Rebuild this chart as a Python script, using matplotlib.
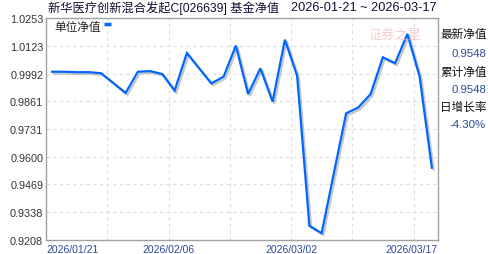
import matplotlib
matplotlib.use("Agg")
import matplotlib.pyplot as plt
import matplotlib.patheffects as pe
import numpy as np

plt.rcParams['font.family'] = ['Liberation Sans', 'Noto Sans CJK SC', 'DejaVu Sans']

dates = ["2026/01/21", "2026/01/23", "2026/01/27", "2026/01/28", "2026/01/29", "2026/01/30",
         "2026/02/02", "2026/02/03", "2026/02/04", "2026/02/05", "2026/02/06",
         "2026/02/09", "2026/02/10", "2026/02/11", "2026/02/12", "2026/02/13",
         "2026/02/24", "2026/02/25", "2026/02/26", "2026/02/27",
         "2026/03/02", "2026/03/03", "2026/03/04", "2026/03/05", "2026/03/06",
         "2026/03/09", "2026/03/10", "2026/03/11", "2026/03/12", "2026/03/13",
         "2026/03/16", "2026/03/17"]
nav = [1.0000, 1.0000, 0.9998, 0.9998, 0.9993, 0.9947,
       0.9900, 1.0000, 1.0003, 0.9989, 0.9911,
       1.0088, 1.0016, 0.9945, 0.9977, 1.0123,
       0.9895, 1.0016, 0.9859, 1.0151,
       0.9981, 0.9275, 0.9240, 0.9523, 0.9804,
       0.9832, 0.9895, 1.0068, 1.0040, 1.0178,
       0.9977, 0.9548]
ytick_labels = ["0.9208", "0.9338", "0.9469", "0.9600", "0.9731", "0.9861", "0.9992", "1.0123", "1.0253"]
xtick_dates = ["2026/01/21", "2026/02/06", "2026/03/02", "2026/03/17"]
title_left = "新华医疗创新混合发起C[026639] 基金净值"
title_right = "2026-01-21 ~ 2026-03-17"
side_labels = ["最新净值", "0.9548", "累计净值", "0.9548", "日增长率", "-4.30%"]
legend_label = "单位净值"

fig = plt.figure(figsize=(4.88, 2.55), dpi=100)
fig.patch.set_facecolor('white')
ax = fig.add_axes([46/488, 14/255, 392/488, 222/255])

x = np.arange(len(nav))
ax.plot(x, nav, color='#0066ff', lw=1.6, solid_joinstyle='miter', zorder=3,
        path_effects=[pe.SimpleLineShadow(offset=(1.3, -1.3), shadow_color='#b0b0b0', alpha=0.7),
                      pe.Normal()])

ymin, ymax = float(ytick_labels[0]), float(ytick_labels[-1])
ax.set_ylim(ymin, ymax)
ax.set_xlim(-0.5, len(nav) - 0.5)

yt = np.linspace(ymin, ymax, len(ytick_labels))
ax.set_yticks(yt)
ax.set_yticklabels(ytick_labels, fontsize=7.8, color='#333333')

for gx in np.arange(4.5, len(nav) - 1, 5):
    ax.axvline(gx, color='#dddddd', lw=0.8, ls=(0, (3, 3)), zorder=1)
for gy in yt[1:-1]:
    ax.axhline(gy, color='#dddddd', lw=0.8, ls=(0, (3, 3)), zorder=1)

xt = []
for d in xtick_dates:
    i = dates.index(d)
    if i == 0:
        xt.append(-0.5)
    elif i == len(dates) - 1:
        xt.append(len(dates) - 0.5)
    else:
        xt.append(i - 0.5)
ax.set_xticks(xt)
labs = ax.set_xticklabels(xtick_dates, fontsize=7.5, color='#2c4a9a')
labs[0].set_ha('left')
labs[-1].set_ha('right')
ax.tick_params(axis='both', length=0, pad=2)
ax.tick_params(axis='x', pad=3)

for s in ax.spines.values():
    s.set_color('#a0a0a0')
    s.set_linewidth(1.0)

fig.text(48/488, 1 - 8/255, title_left, fontsize=8.8, color='#111133', ha='left', va='center')
fig.text(437/488, 1 - 8/255, title_right, fontsize=9.2, color='#111133', ha='right', va='center')

ax.text(8/392, 1 - 9/222, legend_label, transform=ax.transAxes, fontsize=8.4, color='#222222',
        ha='left', va='center')
ax.plot([58/392, 65/392], [1 - 6/222, 1 - 6/222], transform=ax.transAxes, color='#0066ff', lw=2.5,
        solid_capstyle='butt', clip_on=False)

ax.text((395 - 46)/392, 1 - 16/222, "证券之星", transform=ax.transAxes, fontsize=9.5, color='#f4b8b8',
        alpha=0.7, ha='center', va='center', style='italic')

ys = [35, 54, 73, 90, 108, 125]
for lab, yy in zip(side_labels, ys):
    if lab[0].isdigit() or lab[0] == '-':
        fig.text(486/488, 1 - yy/255, lab, fontsize=8.2, color='#2c4a9a', ha='right', va='center')
    else:
        fig.text(440/488, 1 - yy/255, lab, fontsize=8.4, color='#111111', ha='left', va='center')

fig.savefig('out.png', dpi=100)
